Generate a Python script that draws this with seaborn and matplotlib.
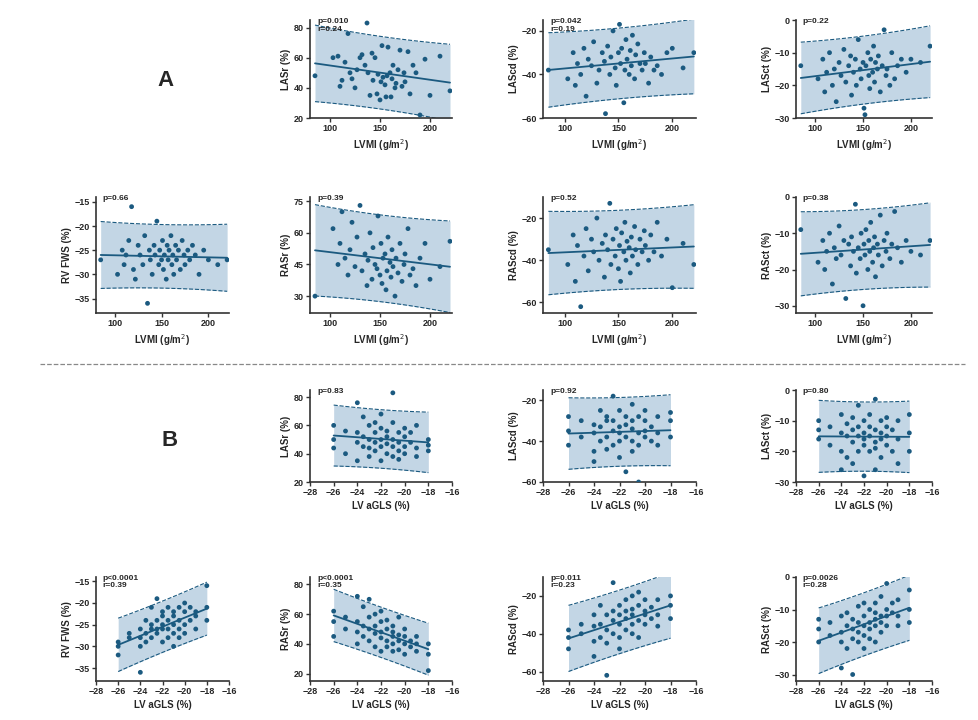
import numpy as np
import pandas as pd
import matplotlib
matplotlib.use("Agg")
import matplotlib.pyplot as plt
import seaborn as sns

sns.set_style("ticks")
plt.rcParams['font.family'] = ['Liberation Sans', 'DejaVu Sans']

lvmi = [85,103,108,110,112,115,118,120,122,125,127,130,132,135,137,138,140,142,143,145,
        147,148,150,151,152,153,155,156,157,158,160,161,162,163,165,166,168,170,172,174,
        175,178,180,183,186,190,195,200,210,220]
lasr = [48,60,61,41,45,57,76,50,46,40,52,60,62,55,83,50,35,63,45,60,
        36,49,32,44,68,47,42,34,48,67,50,34,46,55,40,43,52,65,41,50,
        44,64,36,55,50,22,59,35,61,38]
lascd = [-38,-42,-30,-45,-35,-40,-28,-50,-33,-36,-25,-44,-38,-30,-34,-58,-27,-40,-32,-20,
         -37,-45,-30,-17,-35,-28,-53,-38,-24,-33,-40,-29,-36,-22,-42,-31,-26,-35,-38,-30,
         -35,-44,-32,-38,-36,-40,-30,-28,-37,-30]
lasct = [-14,-18,-12,-22,-16,-10,-20,-15,-25,-13,-17,-9,-19,-14,-11,-23,-16,-12,-20,-6,
         -15,-18,-13,-27,-29,-14,-10,-17,-21,-12,-16,-8,-19,-13,-15,-11,-22,-14,-3,-17,
         -15,-20,-10,-18,-14,-12,-16,-12,-13,-8]
rvfws = [-27,-30,-25,-28,-26,-23,-16,-29,-31,-24,-26,-28,-22,-36,-25,-27,-30,-24,-26,-19,
         -28,-25,-27,-23,-29,-26,-31,-24,-27,-25,-22,-28,-26,-30,-24,-27,-25,-29,-23,-26,
         -28,-25,-27,-24,-26,-30,-25,-27,-28,-27]
rasr = [30,62,45,55,70,48,40,52,65,44,58,73,42,50,35,47,60,38,53,45,
        43,68,40,55,36,48,50,33,42,58,46,39,52,44,30,48,41,55,37,45,
        50,62,40,43,35,48,55,38,44,56]
rascd = [-35,-42,-28,-50,-33,-62,-38,-25,-45,-30,-36,-20,-40,-32,-48,-28,-35,-13,-42,-30,
         -38,-25,-44,-33,-50,-27,-36,-22,-40,-31,-34,-46,-29,-38,-24,-35,-42,-30,-36,-26,
         -33,-40,-28,-36,-22,-38,-30,-53,-32,-42]
rasct = [-9,-18,-12,-20,-15,-10,-24,-14,-17,-8,-16,-12,-28,-13,-19,-11,-15,-2,-21,-14,
         -17,-10,-30,-13,-16,-9,-20,-12,-15,-7,-18,-14,-11,-22,-13,-16,-5,-19,-12,-15,
         -10,-17,-13,-4,-14,-18,-12,-15,-16,-12]

agls = [-26,-26,-26,-25,-25,-24,-24,-24,-24,-23.5,-23.5,-23.5,-23,-23,-23,-23,
        -22.5,-22.5,-22.5,-22.5,-22,-22,-22,-22,-22,-21.5,-21.5,-21.5,-21.5,
        -21,-21,-21,-21,-21,-20.5,-20.5,-20.5,-20.5,-20,-20,-20,-20,-19.5,-19.5,
        -19,-19,-19,-18,-18,-18]
lasr_b = [44,60,50,40,56,48,76,35,55,66,45,52,38,50,60,44,55,42,48,62,
          50,35,58,45,68,47,40,56,52,83,45,38,62,50,42,55,48,36,52,45,58,40,
          48,55,44,60,38,50,42,46]
lascd_b = [-35,-28,-42,-38,-30,-45,-50,-32,-36,-25,-40,-33,-30,-38,-44,-28,-18,-35,-42,-30,
           -36,-25,-48,-33,-40,-28,-38,-55,-32,-34,-22,-40,-30,-45,-36,-28,-42,-60,
           -30,-38,-25,-35,-33,-40,-28,-36,-42,-30,-38,-26]
lasct_b = [-10,-16,-13,-18,-12,-26,-14,-8,-20,-15,-22,-11,-17,-13,-24,-9,-15,-20,-5,-12,
           -28,-14,-18,-10,-16,-12,-20,-15,-8,-26,-13,-17,-3,-19,-14,-22,-10,-16,
           -12,-18,-9,-15,-20,-13,-16,-10,-24,-8,-14,-20]
rvfws_b = [-32,-29,-30,-28,-27,-36,-30,-26,-28,-27,-24,-29,-21,-26,-28,-25,-19,-27,-24,-26,
           -23,-29,-26,-22,-25,-28,-24,-21,-26,-22,-25,-27,-23,-30,-21,-26,-24,-28,
           -22,-25,-20,-27,-24,-21,-23,-26,-22,-16,-21,-24]
rasr_b = [62,45,55,50,58,72,48,55,40,65,52,45,70,50,42,58,47,60,38,52,
          55,44,48,35,62,50,42,38,56,45,40,52,35,48,58,42,36,46,40,45,33,50,
          42,38,35,45,40,22,40,33]
rascd_b = [-48,-38,-42,-40,-35,-52,-36,-30,-44,-42,-25,-35,-62,-30,-38,-45,-13,-40,-33,-28,
           -35,-25,-42,-30,-48,-32,-22,-38,-28,-30,-40,-20,-35,-27,-25,-33,-42,-18,
           -28,-35,-22,-30,-26,-32,-30,-22,-36,-25,-20,-32]
rasct_b = [-20,-16,-13,-18,-14,-28,-17,-12,-20,-15,-22,-11,-30,-16,-13,-19,-14,-9,-20,-17,
           -12,-18,-15,-22,-8,-14,-19,-10,-16,-13,-20,-8,-15,-11,-12,-17,-6,-14,
           -2,-10,-15,-12,-11,-8,-12,-7,-15,-4,-10,-14]

lv_ticks = [100, 150, 200]
gls_ticks = [-28, -26, -24, -22, -20, -18, -16]

DOT = '#1b5a80'
BAND = '#c3d6e5'

W, H = 979, 720
fig = plt.figure(figsize=(9.79, 7.2), dpi=100)

def add_ax(l, r, t, b):
    return fig.add_axes([l / W, 1 - b / H, (r - l) / W, (b - t) / H])

def panel(ax, x, y, xlim, xticks, ylim, yticks, ylabel, xlabel, txt):
    x = np.asarray(x, float); y = np.asarray(y, float)
    n = len(x)
    b1, b0 = np.polyfit(x, y, 1)
    res = y - (b0 + b1 * x)
    s = np.sqrt(np.sum(res ** 2) / (n - 2))
    xm = x.mean(); sxx = np.sum((x - xm) ** 2)
    xs = np.linspace(x.min(), x.max(), 100)
    yh = b0 + b1 * xs
    half = 2.01 * s * np.sqrt(1 + 1 / n + (xs - xm) ** 2 / sxx)
    ax.fill_between(xs, yh - half, yh + half, color=BAND, lw=0, zorder=1)
    ax.plot(xs, yh - half, ls='--', color=DOT, lw=0.8, zorder=2)
    ax.plot(xs, yh + half, ls='--', color=DOT, lw=0.8, zorder=2)
    ax.plot(xs, yh, color=DOT, lw=1.3, zorder=3)
    sns.scatterplot(x=x, y=y, ax=ax, color=DOT, s=12, edgecolor='none', zorder=4)
    ax.set_xlim(*xlim); ax.set_ylim(*ylim)
    ax.set_xticks(xticks); ax.set_yticks(yticks)
    ax.set_ylabel(ylabel, fontsize=7, fontweight='bold', labelpad=2)
    ax.set_xlabel(xlabel, fontsize=7, fontweight='bold', labelpad=3)
    ax.tick_params(labelsize=6.5, length=3, width=1, pad=1.5, color='#333333')
    for lab in ax.get_xticklabels() + ax.get_yticklabels():
        lab.set_fontweight('bold')
    for sp in ['top', 'right']:
        ax.spines[sp].set_visible(False)
    for sp in ['left', 'bottom']:
        ax.spines[sp].set_linewidth(1.2); ax.spines[sp].set_color('#333333')
    ax.text(0.05, 1.02, txt, transform=ax.transAxes, fontsize=6, fontweight='bold',
            va='top', ha='left', linespacing=1.1, zorder=5)

cols = [(96, 229), (310, 452), (543, 696), (796, 932)]
rows = [(20, 118), (197, 313), (390, 482), (577, 681)]
LVX = 'LVMI (g/m$^{2}$)'
GLX = 'LV aGLS (%)'
lvlim = (80, 222); glim = (-28, -16)

panel(add_ax(*cols[1], *rows[0]), lvmi, lasr, lvlim, lv_ticks, (20, 85), [20, 40, 60, 80], 'LASr (%)', LVX, 'p=0.010\nr=0.24')
panel(add_ax(*cols[2], *rows[0]), lvmi, lascd, lvlim, lv_ticks, (-60, -15), [-60, -40, -20], 'LAScd (%)', LVX, 'p=0.042\nr=0.19')
panel(add_ax(*cols[3], *rows[0]), lvmi, lasct, lvlim, lv_ticks, (-30, 0), [-30, -20, -10, 0], 'LASct (%)', LVX, 'p=0.22')
panel(add_ax(*cols[0], *rows[1]), lvmi, rvfws, lvlim, lv_ticks, (-38, -14), [-35, -30, -25, -20, -15], 'RV FWS (%)', LVX, 'p=0.66')
panel(add_ax(*cols[1], *rows[1]), lvmi, rasr, lvlim, lv_ticks, (22, 77), [30, 45, 60, 75], 'RASr (%)', LVX, 'p=0.39')
panel(add_ax(*cols[2], *rows[1]), lvmi, rascd, lvlim, lv_ticks, (-65, -10), [-60, -40, -20], 'RAScd (%)', LVX, 'p=0.52')
panel(add_ax(*cols[3], *rows[1]), lvmi, rasct, lvlim, lv_ticks, (-32, 0), [-30, -20, -10, 0], 'RASct (%)', LVX, 'p=0.38')
panel(add_ax(*cols[1], *rows[2]), agls, lasr_b, glim, gls_ticks, (20, 85), [20, 40, 60, 80], 'LASr (%)', GLX, 'p=0.83')
panel(add_ax(*cols[2], *rows[2]), agls, lascd_b, glim, gls_ticks, (-60, -15), [-60, -40, -20], 'LAScd (%)', GLX, 'p=0.92')
panel(add_ax(*cols[3], *rows[2]), agls, lasct_b, glim, gls_ticks, (-30, 0), [-30, -20, -10, 0], 'LASct (%)', GLX, 'p=0.80')
panel(add_ax(*cols[0], *rows[3]), agls, rvfws_b, glim, gls_ticks, (-38, -14), [-35, -30, -25, -20, -15], 'RV FWS (%)', GLX, 'p<0.0001\nr=0.39')
panel(add_ax(*cols[1], *rows[3]), agls, rasr_b, glim, gls_ticks, (15, 85), [20, 40, 60, 80], 'RASr (%)', GLX, 'p<0.0001\nr=0.35')
panel(add_ax(*cols[2], *rows[3]), agls, rascd_b, glim, gls_ticks, (-65, -10), [-60, -40, -20], 'RAScd (%)', GLX, 'p=0.011\nr=0.23')
panel(add_ax(*cols[3], *rows[3]), agls, rasct_b, glim, gls_ticks, (-32, 0), [-30, -20, -10, 0], 'RASct (%)', GLX, 'p=0.0026\nr=0.28')

fig.text(166 / W, 1 - 80 / H, 'A', fontsize=16, fontweight='bold', ha='center', va='center')
fig.text(170 / W, 1 - 440 / H, 'B', fontsize=16, fontweight='bold', ha='center', va='center')
fig.add_artist(plt.Line2D([40 / W, 965 / W], [1 - 364 / H] * 2, ls='--', color='#888888', lw=0.9))

fig.savefig('out.png', dpi=100)
